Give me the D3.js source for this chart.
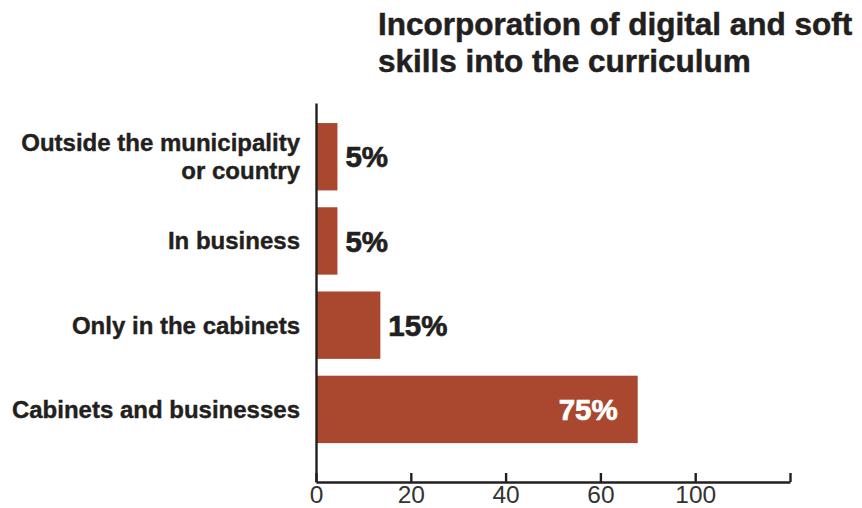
<!DOCTYPE html>
<html>
<head>
<meta charset="utf-8">
<script src="https://cdn.jsdelivr.net/npm/d3@7"></script>
<style>
  html, body { margin: 0; padding: 0; background: #fff; }
  svg { display: block; }
</style>
</head>
<body>
<svg id="chart" width="862" height="508"></svg>
<script>
// Chart content
const titleLines = ["Incorporation of digital and soft", "skills into the curriculum"];
const categories = [
  "Outside the municipality\nor country",
  "In business",
  "Only in the cabinets",
  "Cabinets and businesses"
];
const values = [5, 5, 15, 75];
const tickLabels = ["0", "20", "40", "60", "100", ""];

const barColor = "#a9482f";
const inkColor = "#231f20";
const regular = "'Liberation Sans', Arial, sans-serif";

const svg = d3.select("#chart");

const plotLeft = 316, plotRight = 790, plotTop = 103, plotBottom = 482;

// Bars: value scale anchored at the vertical axis
const x = d3.scaleLinear().domain([0, 110.5]).range([plotLeft, plotRight]);
const y = d3.scaleBand().domain(categories).range([plotTop, plotBottom])
  .paddingInner(0.2).paddingOuter(0.35).align(0.34);

// Axis ticks are evenly spaced marks carrying their own labels
const tickPos = d3.scalePoint().domain(d3.range(tickLabels.length)).range([plotLeft, plotRight]);

// Title
svg.append("text")
  .attr("x", 378).attr("y", 35)
  .attr("font-family", regular).attr("font-weight", "bold")
  .attr("font-size", 31.5).attr("fill", inkColor)
  .attr("stroke", inkColor).attr("stroke-width", 0.5)
  .selectAll("tspan").data(titleLines).join("tspan")
  .attr("x", 378).attr("dy", (d, i) => i === 0 ? 0 : 37)
  .text(d => d);

// Bars
svg.append("g").selectAll("rect").data(values).join("rect")
  .attr("x", x(0))
  .attr("y", (d, i) => y(categories[i]))
  .attr("width", d => x(d) - x(0))
  .attr("height", y.bandwidth())
  .attr("fill", barColor);

// Value labels: outside short bars, inside the long one
const valueLabels = svg.append("g").selectAll("text").data(values).join("text")
  .attr("y", (d, i) => y(categories[i]) + y.bandwidth() / 2)
  .attr("dy", "0.36em")
  .attr("font-family", regular).attr("font-weight", "bold").attr("font-size", 29.5)
  .attr("stroke-width", 0.7)
  .text(d => d + "%");
valueLabels.each(function(d) {
  const t = d3.select(this);
  if (d > 50) {
    t.attr("x", x(d) - 20).attr("text-anchor", "end").attr("fill", "#fff").attr("stroke", "#fff");
  } else {
    t.attr("x", x(d) + 8).attr("text-anchor", "start").attr("fill", inkColor).attr("stroke", inkColor);
  }
});

// Category labels
const catLabels = svg.append("g").selectAll("text").data(categories).join("text")
  .attr("text-anchor", "end")
  .attr("font-family", regular).attr("font-weight", "bold").attr("font-size", 24)
  .attr("fill", inkColor).attr("stroke", inkColor).attr("stroke-width", 0.4);
catLabels.each(function(d, i) {
  const lines = d.split("\n");
  const cy = y(d) + y.bandwidth() / 2;
  const lineGap = 28;
  const firstBaseline = cy + 8.5 - (lines.length - 1) * lineGap / 2;
  d3.select(this).selectAll("tspan").data(lines).join("tspan")
    .attr("x", 300)
    .attr("y", (l, j) => firstBaseline + j * lineGap)
    .text(l => l);
});

// Vertical axis line
const yAxis = svg.append("g").attr("transform", `translate(${plotLeft},0)`)
  .call(d3.axisLeft(y).tickSize(0).tickSizeOuter(0).tickFormat(""));
yAxis.select(".domain").attr("stroke", inkColor).attr("stroke-width", 2.4);

// Horizontal axis with upward ticks
const xAxis = svg.append("g").attr("transform", `translate(0,${plotBottom})`)
  .call(d3.axisBottom(tickPos).tickSizeInner(-9).tickSizeOuter(0).tickPadding(4)
    .tickFormat(i => tickLabels[i]));
xAxis.select(".domain").attr("stroke", inkColor).attr("stroke-width", 2.4);
xAxis.selectAll(".tick line").attr("stroke", inkColor).attr("stroke-width", 2.4);
xAxis.selectAll(".tick text")
  .attr("font-family", regular).attr("font-size", 24.5).attr("fill", "#333");
</script>
</body>
</html>
